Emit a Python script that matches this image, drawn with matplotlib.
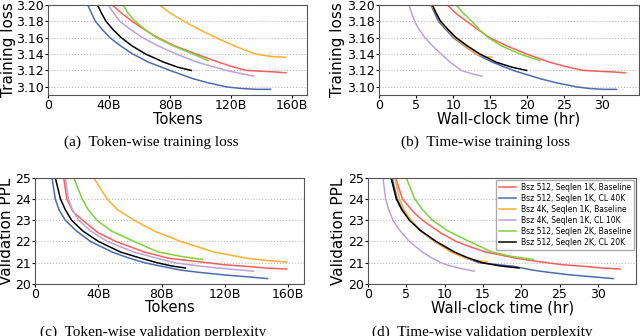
import numpy as np
import matplotlib.pyplot as plt

# 图例名称与颜色
labels = ['Bsz 512, Seqlen 1K, Baseline', 'Bsz 512, Seqlen 1K, CL 40K',
          'Bsz 4K, Seqlen 1K, Baseline', 'Bsz 4K, Seqlen 1K, CL 10K',
          'Bsz 512, Seqlen 2K, Baseline', 'Bsz 512, Seqlen 2K, CL 20K']
colors = ['#ff5e5b', '#4c6cb0', '#ffb02e', '#b9a3d9', '#7ed23a', 'black']

# 训练损失: tokens (B), 时间 (hr), loss
tok_red = [40, 42, 48, 55, 63, 72, 83, 97, 112, 122, 130, 140, 150, 156]
hr_red = [8.5, 9.2, 10.3, 11.8, 13.3, 14.9, 17.2, 19.9, 23, 25.5, 27.5, 29.6, 31.8, 33.2]
loss_red = [3.205, 3.20, 3.19, 3.18, 3.17, 3.16, 3.15, 3.14, 3.13, 3.124, 3.12, 3.119, 3.118, 3.117]

tok_blue = [24, 26, 28.5, 31, 35.5, 40.5, 47.5, 55.6, 66, 80, 95, 105, 117, 127, 137, 146]
hr_blue = [6.5, 7.0, 7.5, 8.0, 9.0, 10.0, 11.5, 13.1, 15.3, 18.1, 21.7, 23.9, 26.6, 28.4, 30.3, 32.0]
loss_blue = [3.21, 3.20, 3.19, 3.18, 3.17, 3.16, 3.15, 3.14, 3.13, 3.12, 3.11, 3.105, 3.10, 3.098, 3.097, 3.097]

tok_orange = [73, 80, 89, 99, 110, 122, 136, 146, 156]
hr_orange = [7.1, 7.7, 8.2, 9.2, 10.2, 11.6, 13.1, 14.2, 15.2]
loss_orange = [3.20, 3.19, 3.18, 3.17, 3.16, 3.15, 3.14, 3.137, 3.136]

tok_purple = [37, 39.5, 43, 47, 54, 62, 72, 84, 98, 117, 127, 135]
hr_purple = [3.8, 4.05, 4.4, 4.8, 5.4, 6.2, 7.2, 8.4, 9.6, 11.1, 12.5, 13.9]
loss_purple = [3.21, 3.20, 3.19, 3.18, 3.17, 3.16, 3.15, 3.14, 3.13, 3.12, 3.116, 3.113]

tok_green = [46, 49, 52.5, 57, 63.5, 71, 82, 95, 105]
hr_green = [9.8, 10.4, 11.3, 12.5, 13.5, 14.7, 16.5, 19.0, 21.7]
loss_green = [3.21, 3.20, 3.19, 3.18, 3.17, 3.16, 3.15, 3.14, 3.132]

tok_black = [30, 32.4, 35, 38, 42.5, 48, 55, 64, 76, 85, 94]
hr_black = [6.8, 7.2, 7.7, 8.3, 9.3, 10.4, 11.9, 13.6, 15.8, 17.9, 19.9]
loss_black = [3.21, 3.20, 3.19, 3.18, 3.17, 3.16, 3.15, 3.14, 3.13, 3.124, 3.120]

# 验证 PPL: tokens (B), 时间 (hr), ppl
vtok_red = [17, 18, 20, 24, 30, 40, 51, 60, 69, 85, 103, 120, 135, 145, 159]
vhr_red = [3.3, 3.6, 4.5, 5.9, 7.1, 9.5, 11.5, 13.3, 15.4, 19.5, 22.3, 25.5, 28.5, 30.5, 32.9]
ppl_red = [25.5, 25, 24, 23.4, 23, 22.4, 22, 21.75, 21.5, 21.2, 21.05, 20.9, 20.82, 20.75, 20.7]

vtok_blue = [10, 10.6, 12.7, 15, 19, 26, 35, 48.7, 58, 69, 80, 92, 103, 120, 135, 147]
vhr_blue = [3.0, 3.15, 3.8, 4.5, 5.5, 6.9, 8.7, 11.0, 12.6, 14.5, 19.0, 21.5, 23.5, 26.5, 29.5, 32.0]
ppl_blue = [25.5, 25, 24, 23.5, 23, 22.5, 22, 21.5, 21.25, 21.0, 20.83, 20.65, 20.55, 20.42, 20.33, 20.25]

vtok_orange = [33, 37, 45.5, 52, 62.5, 75, 92, 113, 134.5, 147, 159]
vhr_orange = [3.25, 3.5, 4.1, 4.7, 5.6, 6.9, 8.7, 10.8, 12.8, 14.3, 15.6]
ppl_orange = [25.5, 25, 24, 23.5, 23, 22.5, 22, 21.5, 21.2, 21.1, 21.03]

vtok_purple = [18, 19, 21, 23.5, 27.5, 35, 45.5, 62.5, 75, 88, 100, 115, 138]
vhr_purple = [1.85, 1.95, 2.3, 2.7, 3.25, 4.2, 5.4, 7.1, 8.2, 9.5, 10.5, 11.8, 13.85]
ppl_purple = [25.5, 25, 24, 23.5, 23, 22.5, 22, 21.5, 21.25, 21.0, 20.88, 20.75, 20.6]

vtok_green = [22, 24.4, 29.7, 33.5, 39, 48, 62.5, 78, 92, 106]
vhr_green = [4.6, 5.0, 6.1, 7.1, 8.4, 10.4, 13.2, 16.2, 18.7, 21.6]
ppl_green = [25.5, 25, 24, 23.5, 23, 22.5, 22, 21.5, 21.3, 21.15]

vtok_black = [12, 12.7, 16, 19, 23, 30, 40, 54, 65, 77, 86, 95]
vhr_black = [2.85, 3.0, 3.7, 4.4, 5.4, 6.9, 8.9, 11.3, 12.9, 14.9, 17.2, 19.7]
ppl_black = [25.5, 25, 24, 23.5, 23, 22.5, 22, 21.5, 21.25, 21.0, 20.85, 20.75]

loss_all = [loss_red, loss_blue, loss_orange, loss_purple, loss_green, loss_black]
ppl_all = [ppl_red, ppl_blue, ppl_orange, ppl_purple, ppl_green, ppl_black]
panels = [
    ([tok_red, tok_blue, tok_orange, tok_purple, tok_green, tok_black], loss_all),
    ([hr_red, hr_blue, hr_orange, hr_purple, hr_green, hr_black], loss_all),
    ([vtok_red, vtok_blue, vtok_orange, vtok_purple, vtok_green, vtok_black], ppl_all),
    ([vhr_red, vhr_blue, vhr_orange, vhr_purple, vhr_green, vhr_black], ppl_all),
]

fig = plt.figure(figsize=(6.4, 3.36), dpi=100)
rects = [[0.075, 0.717, 0.405, 0.269], [0.592, 0.717, 0.406, 0.269],
         [0.055, 0.155, 0.420, 0.316], [0.575, 0.155, 0.419, 0.316]]
xlabels = ['Tokens', 'Wall-clock time (hr)', 'Tokens', 'Wall-clock time (hr)']
ylabels = ['Training loss', 'Training loss', 'Validation PPL', 'Validation PPL']
captions = ['(a)  Token-wise training loss', '(b)  Time-wise training loss',
            '(c)  Token-wise validation perplexity', '(d)  Time-wise validation perplexity']
ylab_x = [-0.124, -0.13, -0.078, -0.082]
xlab_y = [-0.185, -0.185, -0.155, -0.155]
# 子图标题位置 (figure 坐标)
cap_xy = [(0.236, 0.577), (0.758, 0.577), (0.239, 0.01), (0.753, 0.01)]

for i, (xs, ys) in enumerate(panels):
    ax = fig.add_axes(rects[i])
    for k in range(6):
        ax.plot(xs[k], ys[k], color=colors[k], lw=1.1, label=labels[k])
    if i < 2:
        ax.set_ylim(3.09, 3.20)
        ax.set_yticks([3.10, 3.12, 3.14, 3.16, 3.18, 3.20])
    else:
        ax.set_ylim(20, 25)
        ax.set_yticks([20, 21, 22, 23, 24, 25])
    if i % 2 == 0:
        ax.set_xlim(0, 170)
        ax.set_xticks([0, 40, 80, 120, 160])
        ax.set_xticklabels(['0', '40B', '80B', '120B', '160B'])
    else:
        ax.set_xlim(0, 35)
        ax.set_xticks([0, 5, 10, 15, 20, 25, 30])
    ax.grid(axis='y', ls=':', color='#bbbbbb', lw=0.8)
    ax.tick_params(labelsize=9, length=2, pad=1)
    for s in ax.spines.values():
        s.set_color('#555555')
        s.set_linewidth(0.8)
    ax.set_xlabel(xlabels[i], fontsize=10.5)
    ax.set_ylabel(ylabels[i], fontsize=11)
    ax.yaxis.set_label_coords(ylab_x[i], 0.5)
    ax.xaxis.set_label_coords(0.5, xlab_y[i])
    fig.text(cap_xy[i][0], cap_xy[i][1], captions[i], ha='center', va='center',
             fontsize=11, family='Liberation Serif')
    if i == 3:
        ax.legend(loc='upper right', fontsize=5.5, handlelength=2.2, handletextpad=0.6,
                  frameon=True, fancybox=False, edgecolor='#999999', borderpad=0.4,
                  labelspacing=0.25, borderaxespad=0.3)

fig.savefig('out.png', dpi=100)
